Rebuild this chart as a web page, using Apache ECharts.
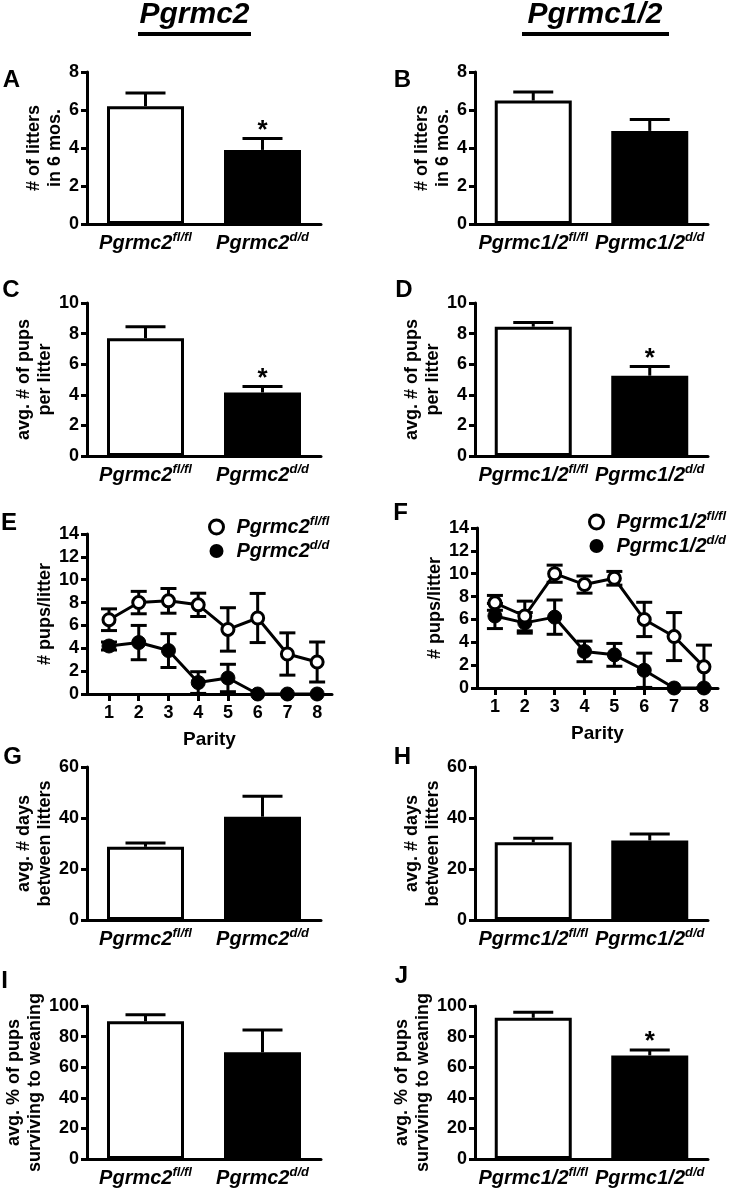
<!DOCTYPE html>
<html><head><meta charset="utf-8">
<script src="https://cdn.jsdelivr.net/npm/echarts@6/dist/echarts.min.js"></script>
<style>html,body{margin:0;padding:0;background:#fff}#c{width:731px;height:1189px}</style>
</head><body><div id="c"></div>
<script>
// ---------- data ----------
const genotypes = ['fl/fl', 'd/d'];
const geneLeft = 'Pgrmc2';
const geneRight = 'Pgrmc1/2';

// A / B: # of litters in 6 mos.
const littersMeanL = [6.2, 3.9];
const littersErrL = [0.7, 0.6];
const littersSigL = ['', '*'];
const littersMeanR = [6.5, 4.9];
const littersErrR = [0.45, 0.6];
const littersSigR = ['', ''];

// C / D: avg. # of pups per litter
const pupsMeanL = [7.7, 4.15];
const pupsErrL = [0.75, 0.4];
const pupsSigL = ['', '*'];
const pupsMeanR = [8.45, 5.25];
const pupsErrR = [0.27, 0.6];
const pupsSigR = ['', '*'];

// E / F: # pups/litter by parity
const parity = [1, 2, 3, 4, 5, 6, 7, 8];
const parityFlMeanL = [6.5, 8.0, 8.15, 7.8, 5.65, 6.65, 3.5, 2.8];
const parityFlErrL = [0.95, 0.98, 1.08, 1.02, 1.9, 2.15, 1.85, 1.75];
const parityDdMeanL = [4.2, 4.5, 3.8, 1.0, 1.4, 0, 0, 0];
const parityDdErrL = [0.35, 1.5, 1.48, 0.95, 1.2, 0, 0, 0];
const parityFlMeanR = [7.45, 6.3, 10.0, 9.05, 9.6, 6.0, 4.5, 1.85];
const parityFlErrR = [0.65, 1.3, 0.75, 0.75, 0.6, 1.5, 2.1, 1.9];
const parityDdMeanR = [6.3, 5.7, 6.2, 3.2, 2.9, 1.55, 0, 0];
const parityDdErrR = [1.1, 0.9, 1.5, 0.9, 1.0, 1.5, 0, 0];

// G / H: avg. # days between litters
const daysMeanL = [28.7, 40.5];
const daysErrL = [1.5, 8.0];
const daysSigL = ['', ''];
const daysMeanR = [30.5, 31.2];
const daysErrR = [1.6, 2.5];
const daysSigR = ['', ''];

// I / J: avg. % of pups surviving to weaning
const survMeanL = [90.0, 69.7];
const survErrL = [4.3, 14.6];
const survSigL = ['', ''];
const survMeanR = [92.3, 67.7];
const survErrR = [3.6, 3.5];
const survSigR = ['', '*'];

// ---------- styling / layout ----------
const FONT = '"Liberation Sans", Arial, Helvetica, sans-serif';
const rich = {
  a: { fontFamily: FONT, fontSize: 20, fontWeight: 'bold', fontStyle: 'italic', color: '#000', lineHeight: 24 },
  s: { fontFamily: FONT, fontSize: 13, fontWeight: 'bold', fontStyle: 'italic', color: '#000', lineHeight: 16, verticalAlign: 'top' }
};
const supLabel = (gene, g) => `{a|${gene}}{s|${g}}`;

const grids = [], xAxes = [], yAxes = [], series = [], legends = [];

function yAxisCfg(gi, max, interval, name, nameGap) {
  return {
    type: 'value', gridIndex: gi, min: 0, max: max, interval: interval,
    name: name, nameLocation: 'middle', nameRotate: 90, nameGap: nameGap,
    nameTextStyle: { fontFamily: FONT, fontSize: 18, fontWeight: 'bold', color: '#000', lineHeight: 21 },
    axisLine: { show: true, lineStyle: { color: '#000', width: 3 } },
    axisTick: { show: true, length: 6, lineStyle: { color: '#000', width: 3 } },
    axisLabel: { margin: 8, fontFamily: FONT, fontSize: 18, fontWeight: 'bold', color: '#000' },
    splitLine: { show: false }
  };
}

function makeBarErr(sigs) {
  return function (params, api) {
    const x = api.value(0), m = api.value(1), e = api.value(2);
    const p0 = api.coord([x, m]), p1 = api.coord([x, m + e]);
    const hw = 20;
    const st = { stroke: '#000', lineWidth: 3 };
    const children = [
      { type: 'line', shape: { x1: p0[0], y1: p0[1], x2: p1[0], y2: p1[1] }, style: st },
      { type: 'line', shape: { x1: p1[0] - hw, y1: p1[1], x2: p1[0] + hw, y2: p1[1] }, style: st }
    ];
    const s = sigs[params.dataIndex];
    if (s) children.push({ type: 'text', style: { text: s, x: p1[0], y: p1[1] - 8, align: 'center', verticalAlign: 'middle', font: `bold 26px ${FONT}`, fill: '#000' } });
    return { type: 'group', children: children };
  };
}

function lineErr(params, api) {
  const x = api.value(0), m = api.value(1), e = api.value(2);
  if (!(e > 0)) return { type: 'group', children: [] };
  const lo = api.coord([x, Math.max(0, m - e)]), hi = api.coord([x, m + e]);
  const hw = 8;
  const st = { stroke: '#000', lineWidth: 3 };
  return {
    type: 'group', children: [
      { type: 'line', shape: { x1: lo[0], y1: lo[1], x2: hi[0], y2: hi[1] }, style: st },
      { type: 'line', shape: { x1: hi[0] - hw, y1: hi[1], x2: hi[0] + hw, y2: hi[1] }, style: st },
      { type: 'line', shape: { x1: lo[0] - hw, y1: lo[1], x2: lo[0] + hw, y2: lo[1] }, style: st }
    ]
  };
}

function barPanel(rect, gene, means, errs, sigs, max, interval, name, nameGap) {
  const gi = grids.length;
  grids.push({ left: rect[0], top: rect[1], width: rect[2], height: rect[3] });
  xAxes.push({
    type: 'category', gridIndex: gi, data: genotypes,
    axisLine: { show: true, lineStyle: { color: '#000', width: 3 } },
    axisTick: { show: false },
    axisLabel: { interval: 0, margin: 7, formatter: v => supLabel(gene, v), rich: rich }
  });
  yAxes.push(yAxisCfg(gi, max, interval, name, nameGap));
  series.push({
    type: 'bar', xAxisIndex: gi, yAxisIndex: gi, barWidth: 77,
    data: means.map((v, i) => ({ value: v, itemStyle: { color: i === 0 ? '#fff' : '#000', borderColor: '#000', borderWidth: 3 } })),
    z: 2
  });
  series.push({
    type: 'custom', xAxisIndex: gi, yAxisIndex: gi, renderItem: makeBarErr(sigs),
    data: means.map((v, i) => [i, v, errs[i]]), encode: { x: 0, y: 1 }, z: 3, clip: false
  });
}

function linePanel(rect, xmin, xmax, gene, flM, flE, ddM, ddE, nameGap, legendPos) {
  const gi = grids.length;
  grids.push({ left: rect[0], top: rect[1], width: rect[2], height: rect[3] });
  xAxes.push({
    type: 'value', gridIndex: gi, min: xmin, max: xmax,
    name: 'Parity', nameLocation: 'middle', nameGap: 36,
    nameTextStyle: { fontFamily: FONT, fontSize: 19, fontWeight: 'bold', color: '#000' },
    axisLine: { show: true, lineStyle: { color: '#000', width: 3 } },
    axisTick: { show: true, length: 7, customValues: parity, lineStyle: { color: '#000', width: 3 } },
    axisLabel: { margin: 10, customValues: parity, fontFamily: FONT, fontSize: 18, fontWeight: 'bold', color: '#000' },
    splitLine: { show: false }
  });
  yAxes.push(yAxisCfg(gi, 14, 2, '# pups/litter', nameGap));
  const nFl = gene + '|fl/fl', nDd = gene + '|d/d';
  const errSeries = (m, e) => ({
    type: 'custom', xAxisIndex: gi, yAxisIndex: gi, renderItem: lineErr,
    data: parity.map((p, i) => [p, m[i], e[i]]), encode: { x: 0, y: 1 }, z: 1, clip: false
  });
  series.push(errSeries(ddM, ddE));
  series.push(errSeries(flM, flE));
  series.push({
    name: nDd, type: 'line', xAxisIndex: gi, yAxisIndex: gi,
    data: parity.map((p, i) => [p, ddM[i]]),
    symbol: 'circle', symbolSize: 14,
    itemStyle: { color: '#000', borderColor: '#000', borderWidth: 1 },
    lineStyle: { color: '#000', width: 3 }, z: 2, clip: false
  });
  series.push({
    name: nFl, type: 'line', xAxisIndex: gi, yAxisIndex: gi,
    data: parity.map((p, i) => [p, flM[i]]),
    symbol: 'circle', symbolSize: 12,
    itemStyle: { color: '#fff', borderColor: '#000', borderWidth: 3 },
    lineStyle: { color: '#000', width: 3 }, z: 3, clip: false
  });
  legends.push({
    orient: 'vertical', left: legendPos[0], top: legendPos[1],
    itemWidth: 30, itemHeight: 14, itemGap: 0, icon: 'circle',
    selectedMode: false,
    data: [
      { name: nFl, itemStyle: { color: '#fff', borderColor: '#000', borderWidth: 3 } },
      { name: nDd, itemStyle: { color: '#000', borderColor: '#000', borderWidth: 0 } }
    ],
    formatter: n => { const p = n.split('|'); return supLabel(p[0], p[1]); },
    textStyle: { rich: rich, lineHeight: 22 }
  });
}

barPanel([87, 72, 234, 152], geneLeft, littersMeanL, littersErrL, littersSigL, 8, 2, '# of litters\nin 6 mos.', 15);
barPanel([475, 72, 233, 152], geneRight, littersMeanR, littersErrR, littersSigR, 8, 2, '# of litters\nin 6 mos.', 15);
barPanel([87, 303, 234, 153], geneLeft, pupsMeanL, pupsErrL, pupsSigL, 10, 2, 'avg. # of pups\nper litter', 25);
barPanel([475, 303, 233, 153], geneRight, pupsMeanR, pupsErrR, pupsSigR, 10, 2, 'avg. # of pups\nper litter', 25);
linePanel([87, 534, 245, 160], 0.26, 8.5, geneLeft, parityFlMeanL, parityFlErrL, parityDdMeanL, parityDdErrL, 29, [203, 510]);
linePanel([477, 528, 241, 160], 0.4, 8.47, geneRight, parityFlMeanR, parityFlErrR, parityDdMeanR, parityDdErrR, 29, [583, 505]);
barPanel([87, 767, 234, 153], geneLeft, daysMeanL, daysErrL, daysSigL, 60, 20, 'avg. # days\nbetween litters', 24);
barPanel([475, 767, 233, 153], geneRight, daysMeanR, daysErrR, daysSigR, 60, 20, 'avg. # days\nbetween litters', 24);
barPanel([87, 1006, 234, 153], geneLeft, survMeanL, survErrL, survSigL, 100, 20, 'avg. % of pups\nsurviving to weaning', 34);
barPanel([475, 1006, 233, 153], geneRight, survMeanR, survErrR, survSigR, 100, 20, 'avg. % of pups\nsurviving to weaning', 34);

const letters = [['A', 11.5, 80], ['B', 402.5, 80], ['C', 11, 290], ['D', 404, 290], ['E', 9, 523.5], ['F', 400.5, 513],
  ['G', 12.5, 757], ['H', 402.5, 757], ['I', 4.5, 981], ['J', 401.5, 976]];
const graphic = letters.map(l => ({
  type: 'text', x: l[1], y: l[2],
  style: { text: l[0], align: 'center', verticalAlign: 'middle', font: `bold 24px ${FONT}`, fill: '#000' }
}));
graphic.push(
  { type: 'text', x: 194.5, y: 15, style: { text: geneLeft, align: 'center', verticalAlign: 'middle', font: `italic bold 30px ${FONT}`, fill: '#000' } },
  { type: 'rect', shape: { x: 138, y: 32, width: 113, height: 4 }, style: { fill: '#000' } },
  { type: 'text', x: 595, y: 15, style: { text: geneRight, align: 'center', verticalAlign: 'middle', font: `italic bold 30px ${FONT}`, fill: '#000' } },
  { type: 'rect', shape: { x: 522, y: 32, width: 147, height: 4 }, style: { fill: '#000' } }
);

const chart = echarts.init(document.getElementById('c'), null, { renderer: 'canvas' });
chart.setOption({
  backgroundColor: '#fff',
  animation: false,
  grid: grids, xAxis: xAxes, yAxis: yAxes, series: series, legend: legends, graphic: graphic
});
</script></body></html>
